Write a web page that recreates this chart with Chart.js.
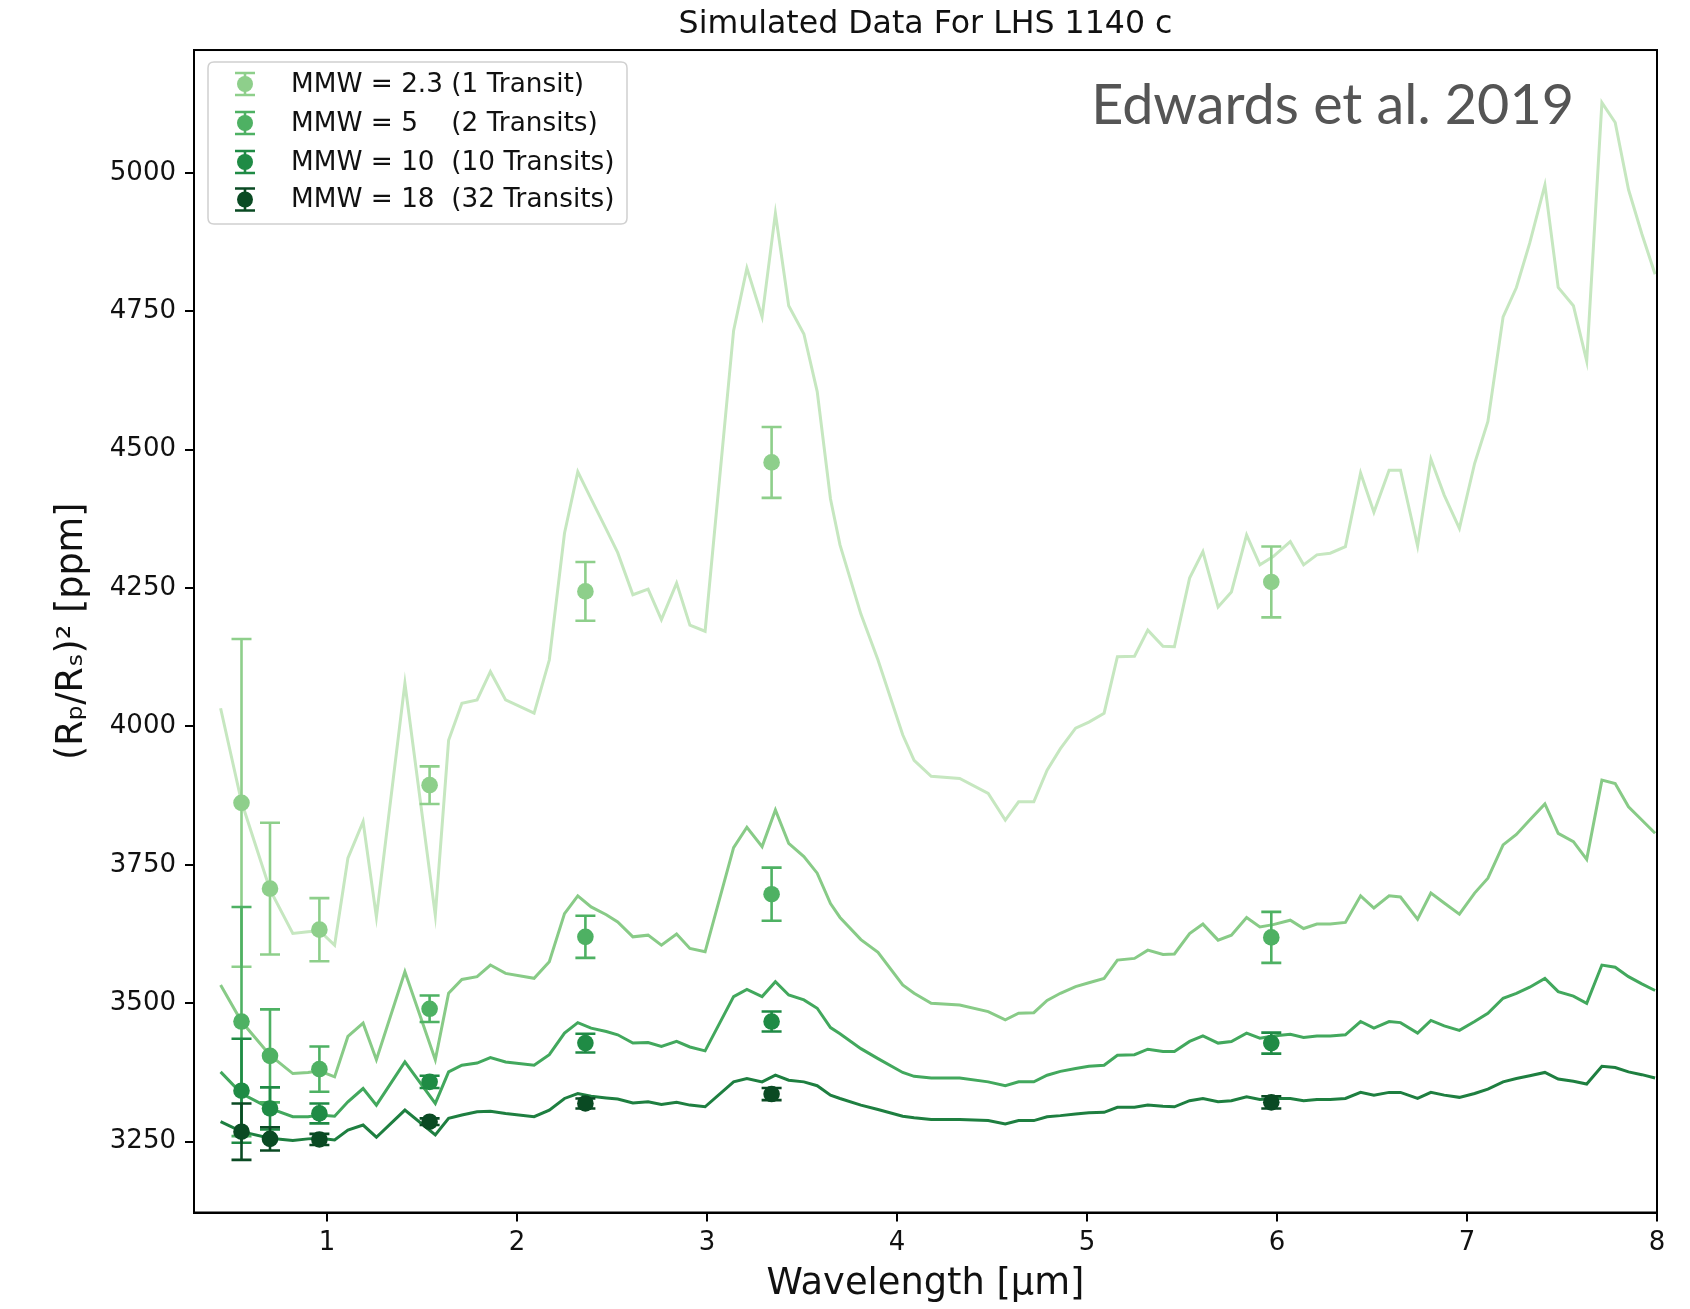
<!DOCTYPE html>
<html><head><meta charset="utf-8">
<script src="https://cdn.jsdelivr.net/npm/chart.js@4.4.1/dist/chart.umd.min.js"></script>
<style>html,body{margin:0;padding:0;background:#fff}#wrap{width:1690px;height:1309px;position:relative}</style>
</head><body><div id="wrap"><canvas id="c"></canvas></div>
<script>
// ---- data ----
const wavelength = [0.44,0.55,0.70,0.82,0.90,0.96,1.04,1.11,1.19,1.26,1.41,1.57,1.64,1.71,1.79,1.86,1.94,2.09,2.17,2.25,2.32,2.39,2.47,2.53,2.61,2.69,2.76,2.84,2.91,2.99,3.14,3.21,3.29,3.36,3.43,3.51,3.58,3.65,3.70,3.81,3.90,4.03,4.09,4.18,4.33,4.48,4.57,4.64,4.72,4.79,4.86,4.94,5.01,5.09,5.16,5.25,5.32,5.40,5.46,5.54,5.61,5.69,5.76,5.84,5.91,5.98,6.07,6.14,6.21,6.28,6.36,6.44,6.51,6.59,6.65,6.74,6.81,6.88,6.96,7.04,7.11,7.19,7.26,7.33,7.41,7.48,7.56,7.63,7.71,7.78,7.85,7.92,7.99];
const modelMMW23 = [4033,3864,3705,3626,3629,3631,3605,3762,3828,3656,4078,3659,3975,4042,4048,4099,4048,4024,4120,4349,4460,4411,4356,4314,4238,4248,4193,4259,4183,4172,4715,4828,4740,4927,4760,4709,4605,4411,4328,4203,4120,3985,3939,3910,3906,3879,3831,3864,3864,3921,3960,3997,4008,4024,4126,4127,4174,4145,4144,4268,4316,4216,4243,4346,4292,4307,4334,4292,4310,4313,4325,4458,4387,4463,4463,4326,4483,4418,4358,4475,4551,4740,4793,4873,4978,4793,4760,4660,5127,5091,4970,4890,4817];
const modelMMW5 = [3533,3467,3406,3373,3375,3378,3367,3440,3464,3398,3557,3398,3518,3543,3548,3569,3554,3545,3575,3662,3694,3674,3660,3647,3620,3623,3605,3625,3599,3593,3781,3818,3783,3849,3789,3765,3735,3680,3655,3615,3592,3533,3518,3500,3497,3485,3470,3482,3483,3505,3518,3530,3537,3545,3578,3581,3596,3588,3589,3626,3643,3614,3623,3655,3638,3642,3650,3635,3643,3643,3646,3694,3672,3694,3692,3652,3699,3681,3661,3699,3726,3786,3805,3831,3860,3807,3792,3760,3903,3897,3855,3831,3807];
const modelMMW10 = [3376,3337,3310,3295,3295,3298,3296,3322,3346,3316,3394,3319,3376,3388,3392,3402,3394,3388,3407,3446,3465,3455,3449,3443,3428,3429,3422,3431,3421,3414,3512,3525,3512,3539,3515,3506,3491,3456,3445,3418,3400,3375,3368,3365,3365,3358,3351,3358,3358,3370,3377,3382,3386,3388,3406,3407,3417,3413,3413,3431,3441,3428,3431,3446,3437,3441,3444,3438,3441,3441,3443,3467,3455,3467,3465,3446,3469,3459,3451,3467,3482,3509,3518,3529,3545,3521,3513,3500,3569,3565,3548,3535,3523];
const modelMMW18 = [3286,3268,3256,3252,3255,3256,3253,3271,3280,3258,3307,3262,3292,3298,3304,3305,3301,3295,3307,3328,3337,3332,3329,3327,3320,3322,3317,3321,3316,3313,3358,3364,3358,3370,3361,3358,3351,3334,3328,3316,3308,3296,3293,3290,3290,3288,3282,3288,3288,3295,3297,3300,3302,3303,3312,3312,3316,3314,3313,3324,3328,3322,3324,3331,3326,3328,3328,3324,3326,3326,3328,3339,3334,3339,3339,3328,3339,3334,3330,3337,3345,3358,3364,3369,3375,3363,3359,3354,3386,3384,3376,3371,3365];

const obsWavelength = [0.55,0.70,0.96,1.54,2.36,3.34,5.97];
const obsMMW23 = [3862,3707,3633,3894,4244,4477,4261];
const errMMW23 = [296,119,57,34,53,64,64];
const obsMMW5 = [3467,3405,3381,3490,3620,3697,3619];
const errMMW5 = [207,84,41,24,38,48,46];
const obsMMW10 = [3342,3310,3301,3358,3428,3467,3428];
const errMMW10 = [94,38,18,11,17,18,19];
const obsMMW18 = [3268,3255,3254,3286,3319,3336,3321];
const errMMW18 = [51,21,10,6,9,11,11];

const xTicks = [1,2,3,4,5,6,7,8];
const yTicks = [3250,3500,3750,4000,4250,4500,4750,5000];
const legendLabels = ['MMW = 2.3 (1 Transit)','MMW = 5    (2 Transits)','MMW = 10  (10 Transits)','MMW = 18  (32 Transits)'];
const titleText = 'Simulated Data For LHS 1140 c';
const creditText = 'Edwards et al. 2019';
const xTitle = 'Wavelength [\u03bcm]';
const yTitle = '(R\u209a/R\u209b)\u00b2 [ppm]';

// ---- style ----
const lineColors = ['#c6e7c0','#88cb87','#42a85d','#1e7f40'];
const pointColors = ['#8ecf8b','#4eb163','#1f8b45','#0a4a23'];
const FONT = "'DejaVu Sans', sans-serif";

const models = [modelMMW23, modelMMW5, modelMMW10, modelMMW18];
const obs = [obsMMW23, obsMMW5, obsMMW10, obsMMW18];
const errs = [errMMW23, errMMW5, errMMW10, errMMW18];

const datasets = [];
models.forEach((m, k) => {
  datasets.push({
    type: 'line', label: 'model ' + legendLabels[k],
    data: wavelength.map((w, i) => ({x: w, y: m[i]})),
    borderColor: lineColors[k], borderWidth: 3, pointRadius: 0, tension: 0,
    fill: false, order: 10
  });
});
obs.forEach((o, k) => {
  datasets.push({
    type: 'scatter', label: legendLabels[k],
    data: obsWavelength.map((w, i) => ({x: w, y: o[i]})),
    errorBars: errs[k],
    backgroundColor: pointColors[k], borderWidth: 0,
    pointRadius: 8.3, pointHoverRadius: 8.3, order: 4 - k
  });
});

const errorBarPlugin = {
  id: 'errorBars',
  beforeDatasetDraw(chart, args) {
    const ds = chart.data.datasets[args.index];
    if (!ds.errorBars) return;
    const {ctx, chartArea: ca, scales: {x, y}} = chart;
    ctx.save();
    ctx.beginPath(); ctx.rect(ca.left, ca.top, ca.width, ca.height); ctx.clip();
    ctx.strokeStyle = ds.backgroundColor; ctx.lineWidth = 2.6; ctx.lineCap = 'butt';
    ds.data.forEach((p, i) => {
      const e = ds.errorBars[i];
      const px = x.getPixelForValue(p.x);
      const t = y.getPixelForValue(p.y + e), b = y.getPixelForValue(p.y - e);
      ctx.beginPath();
      ctx.moveTo(px, t); ctx.lineTo(px, b);
      ctx.moveTo(px - 10, t); ctx.lineTo(px + 10, t);
      ctx.moveTo(px - 10, b); ctx.lineTo(px + 10, b);
      ctx.stroke();
    });
    ctx.restore();
  }
};

const decorPlugin = {
  id: 'decor',
  afterDraw(chart) {
    const {ctx, chartArea: ca} = chart;
    ctx.save();
    // frame
    ctx.strokeStyle = '#000'; ctx.lineWidth = 2;
    ctx.strokeRect(ca.left, ca.top, ca.width, ca.height);
    // legend
    const bx = ca.left + 14, by = ca.top + 12, bw = 419, bh = 162, r = 6;
    ctx.beginPath();
    ctx.moveTo(bx + r, by); ctx.lineTo(bx + bw - r, by); ctx.quadraticCurveTo(bx + bw, by, bx + bw, by + r);
    ctx.lineTo(bx + bw, by + bh - r); ctx.quadraticCurveTo(bx + bw, by + bh, bx + bw - r, by + bh);
    ctx.lineTo(bx + r, by + bh); ctx.quadraticCurveTo(bx, by + bh, bx, by + bh - r);
    ctx.lineTo(bx, by + r); ctx.quadraticCurveTo(bx, by, bx + r, by);
    ctx.closePath();
    ctx.fillStyle = 'rgba(255,255,255,0.85)'; ctx.fill();
    ctx.strokeStyle = '#d0d0d0'; ctx.lineWidth = 1.5; ctx.stroke();
    const rows = [34, 73, 112, 149.5];
    ctx.font = '26.3px ' + FONT; ctx.textBaseline = 'middle'; ctx.textAlign = 'left';
    legendLabels.forEach((lab, k) => {
      const cy = ca.top + rows[k], cx = ca.left + 51;
      ctx.strokeStyle = pointColors[k]; ctx.lineWidth = 2.6;
      ctx.beginPath();
      ctx.moveTo(cx, cy - 11); ctx.lineTo(cx, cy + 11);
      ctx.moveTo(cx - 10, cy - 11); ctx.lineTo(cx + 10, cy - 11);
      ctx.moveTo(cx - 10, cy + 11); ctx.lineTo(cx + 10, cy + 11);
      ctx.stroke();
      ctx.fillStyle = pointColors[k];
      ctx.beginPath(); ctx.arc(cx, cy, 8, 0, Math.PI * 2); ctx.fill();
      ctx.fillStyle = '#111';
      ctx.fillText(lab, ca.left + 97, cy + 1);
    });
    // credit
    ctx.font = '400 100px Lato, sans-serif';
    const w100 = ctx.measureText(creditText).width;
    const fs = 100 * 483 / w100;
    ctx.font = '400 ' + fs.toFixed(1) + 'px Lato, sans-serif';
    ctx.fillStyle = '#555555'; ctx.textAlign = 'right'; ctx.textBaseline = 'alphabetic';
    ctx.fillText(creditText, ca.right - 83, ca.top + 74);
    ctx.restore();
  }
};

new Chart(document.getElementById('c'), {
  type: 'scatter',
  data: {datasets},
  plugins: [errorBarPlugin, decorPlugin],
  options: {
    responsive: true, maintainAspectRatio: false, animation: false, events: [],
    layout: {padding: {left: 0, right: 33, top: 0, bottom: 0}},
    plugins: {
      legend: {display: false}, tooltip: {enabled: false},
      title: {display: true, text: titleText, color: '#111', fullSize: false,
        font: {family: FONT, size: 31.6, weight: 'normal', lineHeight: 1.2},
        padding: {top: 6, bottom: 6.1}}
    },
    scales: {
      x: {
        type: 'linear', min: 0.3, max: 8,
        afterBuildTicks: s => { s.ticks = xTicks.map(v => ({value: v})); },
        afterFit: s => { s.height = 96.5; },
        grid: {drawOnChartArea: false, drawTicks: true, tickLength: 9, color: '#000', lineWidth: 2},
        border: {display: true, color: '#000', width: 2},
        ticks: {color: '#111', font: {family: FONT, size: 26}, padding: 6, maxRotation: 0,
          callback: v => String(v)},
        title: {display: true, text: xTitle, color: '#111',
          font: {family: FONT, size: 36.8, lineHeight: 1.2}, padding: {top: 0, bottom: 2}}
      },
      y: {
        type: 'linear', min: 3122, max: 5222,
        afterBuildTicks: s => { s.ticks = yTicks.map(v => ({value: v})); },
        afterFit: s => { s.width = 194; },
        grid: {drawOnChartArea: false, drawTicks: true, tickLength: 9, color: '#000', lineWidth: 2},
        border: {display: true, color: '#000', width: 2},
        ticks: {color: '#111', font: {family: FONT, size: 26}, padding: 9,
          callback: v => String(v)},
        title: {display: true, text: yTitle, color: '#111',
          font: {family: FONT, size: 36.5, lineHeight: 1.2}, padding: {top: 51, bottom: 0}}
      }
    }
  }
});
</script>
</body></html>
